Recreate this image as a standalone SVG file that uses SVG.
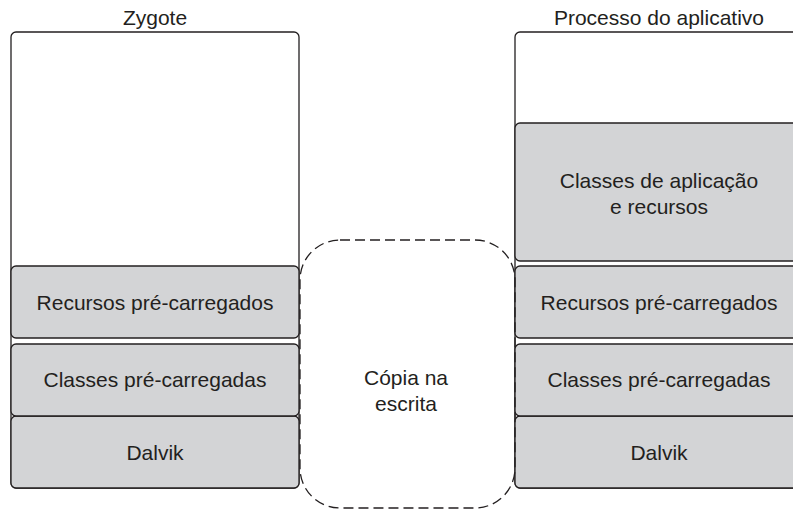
<svg xmlns="http://www.w3.org/2000/svg" width="793" height="510" viewBox="0 0 793 510">
<style>
.outer{fill:#ffffff;stroke:#231f20;stroke-width:1.3}
.blk{fill:#d3d4d6;stroke:#231f20;stroke-width:1.3}
.cow{fill:none;stroke:#231f20;stroke-width:1.3;stroke-dasharray:10 5}
text{font-family:"Liberation Sans",Arial,sans-serif;font-size:21px;fill:#231f20;text-anchor:middle}
</style>
<rect width="793" height="510" fill="#ffffff"/>
<g id="zygote">
<text x="155" y="25">Zygote</text>
<rect class="outer" x="11" y="32" width="288" height="456" rx="5"/>
</g>
<g id="z-dalvik">
<rect class="blk" x="11" y="416" width="288" height="72" rx="5"/>
<text x="155" y="460">Dalvik</text>
</g>
<g id="z-classes">
<rect class="blk" x="11" y="344" width="288" height="72" rx="5"/>
<text x="155" y="387">Classes pré-carregadas</text>
</g>
<g id="z-recursos">
<rect class="blk" x="11" y="266" width="288" height="72" rx="5"/>
<text x="155" y="310">Recursos pré-carregados</text>
</g>
<g id="app">
<text x="659" y="25">Processo do aplicativo</text>
<rect class="outer" x="515" y="32" width="288" height="456" rx="5"/>
</g>
<g id="a-appclasses">
<rect class="blk" x="515" y="123" width="288" height="138" rx="5"/>
<text x="659" y="188">Classes de aplicação</text>
<text x="659" y="214">e recursos</text>
</g>
<g id="a-dalvik">
<rect class="blk" x="515" y="416" width="288" height="72" rx="5"/>
<text x="659" y="460">Dalvik</text>
</g>
<g id="a-classes">
<rect class="blk" x="515" y="344" width="288" height="72" rx="5"/>
<text x="659" y="387">Classes pré-carregadas</text>
</g>
<g id="a-recursos">
<rect class="blk" x="515" y="266" width="288" height="72" rx="5"/>
<text x="659" y="310">Recursos pré-carregados</text>
</g>
<g id="cow">
<rect class="cow" x="300" y="240" width="215" height="268" rx="40"/>
<text x="406" y="385">Cópia na</text>
<text x="406" y="411">escrita</text>
</g>
<g id="connectors"></g>
</svg>
